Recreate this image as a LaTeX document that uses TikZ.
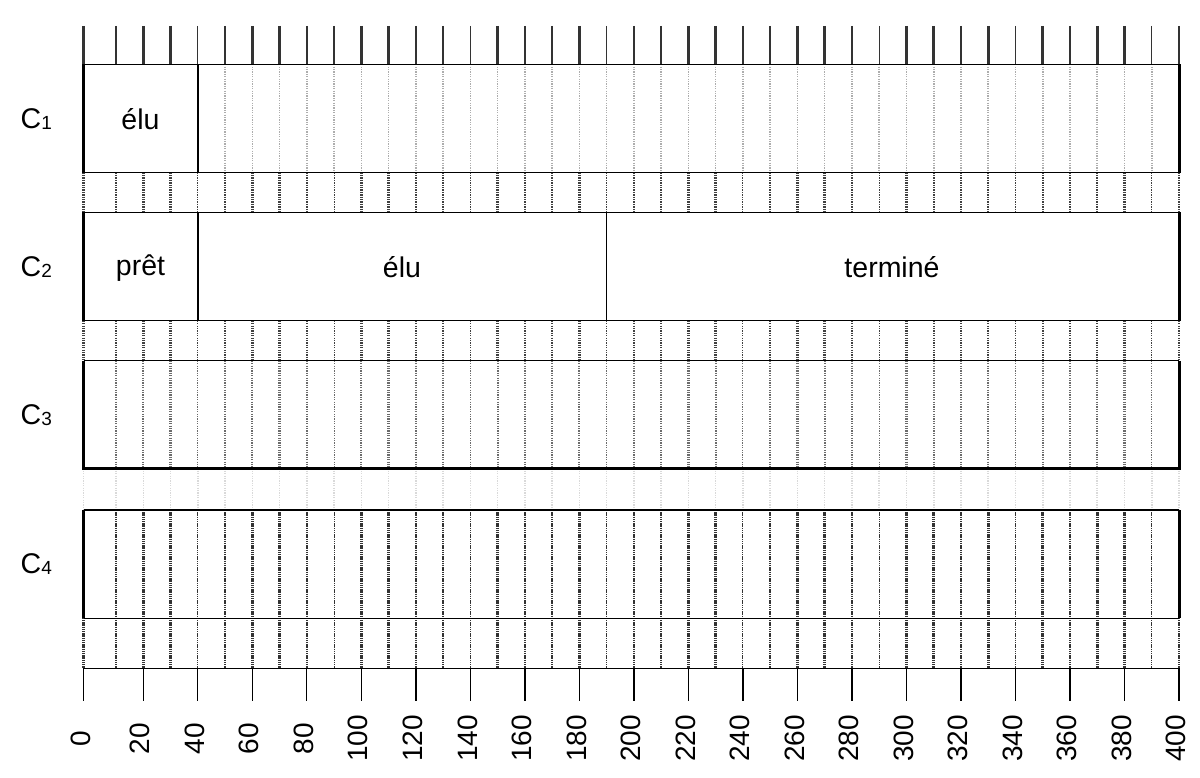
\documentclass[tikz,border=0pt]{standalone}
\usepackage{fontspec}
\setmainfont{Liberation Sans}
\begin{document}
\begin{tikzpicture}[x=1pt,y=-1pt,
  topline/.style={draw=black!80,line width=2.6pt},
  gridA/.style={draw=black!32,line width=1.6pt,dash pattern=on 1.2pt off 1.2pt},
  gridB/.style={draw=black!75,line width=2.4pt,dash pattern=on 1.3pt off 1.1pt},
  gridC/.style={draw=black!58,line width=2.2pt,dash pattern=on 1.3pt off 1.1pt},
  gridD/.style={draw=black!15,line width=1.6pt,dash pattern=on 1.2pt off 1.2pt},
  gridE/.style={draw=black!80,line width=2.6pt,dash pattern=on 1.3pt off 0.9pt},
  boxline/.style={draw=black,line width=1.3pt},
  thickline/.style={draw=black,line width=3pt},
  tick/.style={draw=black,line width=1.3pt},
  txt/.style={font=\fontsize{28.5}{31}\selectfont,inner sep=0pt},
  ticklbl/.style={font=\fontsize{28}{30}\selectfont,inner sep=0pt,rotate=90},
]
\useasboundingbox (0,0) rectangle (1200,778);
% y levels
\def\yT{26}\def\yA{64.3}\def\yB{172.7}\def\yC{212.3}\def\yD{320.7}
\def\yE{360.7}\def\yF{468.3}\def\yG{510}\def\yH{618.3}\def\yI{668.3}
\def\xL{83.5}\def\xR{1179}
% grid lines every 10
\foreach \v in {0,10,...,400}{
  \pgfmathsetmacro\X{\v==0 ? 83.5 : 143.3+(\v-20)*2.7255}
  \pgfmathsetmacro\thin{int(mod(\v+10,50)==0 ? 1 : 0)}
  \ifnum\thin=1
    \draw[topline,line width=1.2pt] (\X,\yT) -- (\X,\yA);
    \draw[gridB,line width=1.1pt] (\X,\yB) -- (\X,\yC);
    \draw[gridB,line width=1.1pt] (\X,\yD) -- (\X,\yE);
    \draw[gridC,line width=1.1pt] (\X,\yE) -- (\X,\yF);
    \draw[gridE,line width=1.1pt] (\X,\yG) -- (\X,\yI);
  \else
    \draw[topline] (\X,\yT) -- (\X,\yA);
    \draw[gridB] (\X,\yB) -- (\X,\yC);
    \draw[gridB] (\X,\yD) -- (\X,\yE);
    \draw[gridC] (\X,\yE) -- (\X,\yF);
    \draw[gridE] (\X,\yG) -- (\X,\yI);
  \fi
  \ifnum\v>40 \draw[gridA] (\X,\yA) -- (\X,\yB); \fi
  \draw[gridD] (\X,\yF) -- (\X,\yG);
}
% C1
\coordinate (c1a) at (\xL,\yA);
\coordinate (c1m) at (198,\yB);
\coordinate (c1b) at (\xR,\yB);
\draw[boxline] (c1a) rectangle (c1b);
\draw[boxline] (198,\yA) -- (c1m);
\draw[thickline] (\xL,\yA) -- (\xL,\yB);
\draw[thickline] (\xR,\yA) -- (\xR,\yB);
\node[txt] (e1) at (140.5,119) {élu};
% C2
\draw[boxline] (\xL,\yC) rectangle (\xR,\yD);
\draw[boxline] (198,\yC) -- (198,\yD);
\draw[boxline] (606.6,\yC) -- (606.6,\yD);
\draw[thickline] (\xL,\yC) -- (\xL,\yD);
\draw[thickline] (\xR,\yC) -- (\xR,\yD);
\node[txt] (p2) at (140.5,268.5) {prêt};
\node[txt] (e2) at (402,267) {élu};
\node[txt] (t2) at (892,267) {terminé};
% C3
\draw[boxline] (\xL,\yE) -- (\xR,\yE);
\draw[thickline] (\xL,\yE) -- (\xL,\yF) -- (\xR,\yF) -- (\xR,\yE);
% C4
\draw[boxline] (\xL,\yG) -- (\xR,\yG);
\draw[boxline] (\xL,\yH) -- (\xR,\yH);
\draw[thickline] (\xL,\yG) -- (\xL,\yH);
\draw[thickline] (\xR,\yG) -- (\xR,\yH);
% row labels
\foreach \i/\yy in {1/119.5,2/267.5,3/415,4/564.5}{
  \node[txt,anchor=west] (c\i) at (20.5,\yy) {C\raisebox{-1pt}{\fontsize{19}{19}\selectfont\i}};
}
% axis
\draw[tick] (\xL,\yI) -- (\xR,\yI);
\foreach \v in {0,20,...,400}{
  \pgfmathsetmacro\X{\v==0 ? 83.5 : 143.3+(\v-20)*2.7255}
  \draw[tick] (\X,\yI) -- (\X,700.5);
  \node[ticklbl] (t\v) at (\X-3,738.5) {\v};
}
\end{tikzpicture}
\end{document}
